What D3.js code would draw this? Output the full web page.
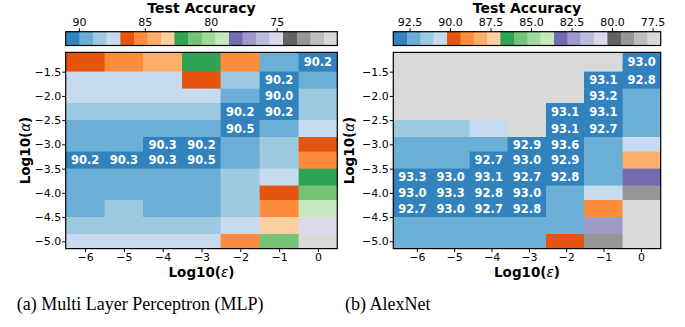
<!DOCTYPE html>
<html>
<head>
<meta charset="utf-8">
<script src="https://cdn.jsdelivr.net/npm/d3@7/dist/d3.min.js"></script>
<style>
  html, body { margin: 0; padding: 0; background: #fff; }
  svg { display: block; }
</style>
</head>
<body>
<svg id="fig" width="685" height="327"></svg>
<script>
// ---- data ----
const epsilonExp = [-6, -5, -4, -3, -2, -1, 0];
const alphas = [5e-2, 2e-2, 1e-2, 5e-3, 2e-3, 1e-3, 5e-4, 2e-4, 1e-4, 5e-5, 2e-5, 1e-5];

// test accuracy (%), rows follow alphas, columns follow epsilonExp
const mlpAccuracy = [
  [86.3, 85.3, 84.3, 82.2, 85.3, 89.4, 90.2],
  [87.4, 87.4, 87.4, 86.3, 88.4, 90.2, 89.4],
  [87.4, 87.4, 87.4, 87.4, 89.4, 90.0, 88.4],
  [88.4, 88.4, 88.4, 88.4, 90.2, 90.2, 88.4],
  [89.4, 89.4, 89.4, 89.4, 90.5, 89.4, 87.4],
  [89.4, 89.4, 90.3, 90.2, 89.4, 88.4, 86.3],
  [90.2, 90.3, 90.3, 90.5, 89.4, 88.4, 85.3],
  [89.4, 89.4, 89.4, 89.4, 88.4, 87.4, 82.2],
  [89.4, 89.4, 89.4, 89.4, 88.4, 86.3, 81.2],
  [89.4, 88.4, 89.4, 89.4, 88.4, 85.3, 79.1],
  [88.4, 88.4, 88.4, 88.4, 87.4, 83.3, 75.0],
  [87.4, 87.4, 87.4, 87.4, 85.3, 81.2, 71.0]
];
const alexnetAccuracy = [
  [10.0, 10.0, 10.0, 10.0, 10.0, 10.0, 93.0],
  [10.0, 10.0, 10.0, 10.0, 10.0, 93.1, 92.8],
  [10.0, 10.0, 10.0, 10.0, 10.0, 93.2, 92.3],
  [10.0, 10.0, 10.0, 10.0, 93.1, 93.1, 92.3],
  [91.5, 91.5, 90.6, 10.0, 93.1, 92.7, 92.3],
  [92.3, 92.3, 92.3, 92.9, 93.6, 92.3, 90.6],
  [92.3, 92.3, 92.7, 93.0, 92.9, 92.3, 88.1],
  [93.3, 93.0, 93.1, 92.7, 92.8, 92.3, 83.2],
  [93.0, 93.3, 92.8, 93.0, 92.3, 90.6, 79.1],
  [92.7, 93.0, 92.7, 92.8, 92.3, 89.0, 10.0],
  [92.3, 92.3, 92.3, 92.3, 92.3, 82.4, 10.0],
  [92.3, 92.3, 92.3, 92.3, 89.8, 79.1, 10.0]
];

const mlpColorRange = [70.4, 91.0];
const alexnetColorRange = [77.0, 93.5];
const mlpColorTicks = [90, 85, 80, 75];
const alexnetColorTicks = [92.5, 90.0, 87.5, 85.0, 82.5, 80.0, 77.5];
const mlpLabelMin = 90.0;
const alexnetLabelMin = 92.7;
const alphaTicks = [-1.5, -2.0, -2.5, -3.0, -3.5, -4.0, -4.5, -5.0];
const mlpEpsExtent = [-6.5, 0.5];
const alexnetEpsExtent = [-6.63, 0.53];
const captions = ["(a) Multi Layer Perceptron (MLP)", "(b) AlexNet"];

// tab20c palette, used as a discrete colormap (high accuracy -> first colour)
const tab20c = [
  "#3182bd", "#6baed6", "#9ecae1", "#c6dbef",
  "#e6550d", "#fd8d3c", "#fdae6b", "#fdd0a2",
  "#31a354", "#74c476", "#a1d99b", "#c7e9c0",
  "#756bb1", "#9e9ac8", "#bcbddc", "#dadaeb",
  "#636363", "#969696", "#bdbdbd", "#d9d9d9"
];

// ---- layout ----
const svg = d3.select("#fig");
const SANS = "DejaVu Sans, sans-serif";
const plotTop = 52.4, plotBottom = 248.6;
const cbarTop = 31.7, cbarBottom = 45.5;

// row edges in log10(alpha): midpoints between neighbouring rows
const logAlpha = alphas.map(Math.log10);
const rowEdges = [logAlpha[0] + (logAlpha[0] - logAlpha[1]) / 2];
for (let i = 0; i < logAlpha.length - 1; i++) rowEdges.push((logAlpha[i] + logAlpha[i + 1]) / 2);
const n = logAlpha.length;
rowEdges.push(logAlpha[n - 1] - (logAlpha[n - 2] - logAlpha[n - 1]) / 2);

function panel(opts) {
  const { x0, x1, data, colorRange, colorTicks, tickFmt, labelMin, epsExtent, yLabelX, caption, captionX } = opts;
  const g = svg.append("g");

  const color = d3.scaleQuantize()
    .domain(colorRange)
    .range(tab20c.slice().reverse());

  const xBand = d3.scaleBand().domain(epsilonExp).range([x0, x1]).paddingInner(0).paddingOuter(0);
  const xAxisScale = d3.scaleLinear().domain(epsExtent).range([x0, x1]);
  const y = d3.scaleLinear().domain([rowEdges[rowEdges.length - 1], rowEdges[0]]).range([plotBottom, plotTop]);

  // cells
  const cells = [];
  data.forEach((row, ri) => row.forEach((v, ci) => cells.push({ ri, ci, v })));
  g.append("g").selectAll("rect").data(cells).join("rect")
    .attr("x", d => xBand(epsilonExp[d.ci]))
    .attr("width", xBand.bandwidth())
    .attr("y", d => y(rowEdges[d.ri]))
    .attr("height", d => y(rowEdges[d.ri + 1]) - y(rowEdges[d.ri]))
    .attr("fill", d => color(d.v))
    .attr("stroke", d => color(d.v))
    .attr("stroke-width", 0.4)
    .attr("shape-rendering", "crispEdges");

  // value annotations
  g.append("g").selectAll("text").data(cells.filter(d => d.v >= labelMin)).join("text")
    .attr("x", d => xBand(epsilonExp[d.ci]) + xBand.bandwidth() / 2)
    .attr("y", d => (y(rowEdges[d.ri]) + y(rowEdges[d.ri + 1])) / 2)
    .attr("dy", "0.36em")
    .attr("text-anchor", "middle")
    .attr("fill", "#fff")
    .attr("font-family", SANS)
    .attr("font-weight", "bold")
    .attr("font-size", 11.5)
    .text(d => d3.format(".1f")(d.v));

  // frame
  g.append("rect")
    .attr("x", x0).attr("y", plotTop)
    .attr("width", x1 - x0).attr("height", plotBottom - plotTop)
    .attr("fill", "none").attr("stroke", "#000").attr("stroke-width", 1.2);

  // x axis
  const xAxis = g.append("g").attr("transform", `translate(0,${plotBottom})`)
    .call(d3.axisBottom(xAxisScale).tickValues(epsilonExp).tickFormat(d3.format("d")).tickSize(3.5).tickPadding(1));
  xAxis.select(".domain").remove();
  xAxis.selectAll("text").attr("font-family", SANS).attr("font-size", 11).attr("fill", "#000");

  // y axis
  const yAxis = g.append("g").attr("transform", `translate(${x0},0)`)
    .call(d3.axisLeft(y).tickValues(alphaTicks).tickFormat(d3.format(".1f")).tickSize(3.5).tickPadding(1));
  yAxis.select(".domain").remove();
  yAxis.selectAll("text").attr("font-family", SANS).attr("font-size", 11).attr("fill", "#000");

  // axis titles
  const xl = g.append("text")
    .attr("x", (x0 + x1) / 2).attr("y", 276.5)
    .attr("text-anchor", "middle")
    .attr("font-family", SANS).attr("font-size", 13.5).attr("font-weight", "bold");
  xl.append("tspan").text("Log10(");
  xl.append("tspan").attr("font-style", "italic").attr("font-weight", "normal").text("ε");
  xl.append("tspan").text(")");

  const yl = g.append("text")
    .attr("transform", `translate(${yLabelX},${(plotTop + plotBottom) / 2}) rotate(-90)`)
    .attr("text-anchor", "middle")
    .attr("font-family", SANS).attr("font-size", 13.5).attr("font-weight", "bold");
  yl.append("tspan").text("Log10(");
  yl.append("tspan").attr("font-style", "italic").attr("font-weight", "normal").text("α");
  yl.append("tspan").text(")");

  // colorbar
  const cx = d3.scaleLinear().domain([colorRange[1], colorRange[0]]).range([x0, x1]);
  const bins = color.range().map(c => color.invertExtent(c));
  g.append("g").selectAll("rect").data(bins).join("rect")
    .attr("x", d => cx(d[1]))
    .attr("width", d => cx(d[0]) - cx(d[1]))
    .attr("y", cbarTop)
    .attr("height", cbarBottom - cbarTop)
    .attr("fill", d => color((d[0] + d[1]) / 2))
    .attr("stroke", d => color((d[0] + d[1]) / 2))
    .attr("stroke-width", 0.4)
    .attr("shape-rendering", "crispEdges");
  g.append("rect")
    .attr("x", x0).attr("y", cbarTop)
    .attr("width", x1 - x0).attr("height", cbarBottom - cbarTop)
    .attr("fill", "none").attr("stroke", "#000").attr("stroke-width", 1.2);
  const cAxis = g.append("g").attr("transform", `translate(0,${cbarTop})`)
    .call(d3.axisTop(cx).tickValues(colorTicks).tickFormat(tickFmt).tickSize(3.5).tickPadding(2.5));
  cAxis.select(".domain").remove();
  cAxis.selectAll("text").attr("font-family", SANS).attr("font-size", 11).attr("fill", "#000");

  g.append("text")
    .attr("x", (x0 + x1) / 2).attr("y", 13.2)
    .attr("text-anchor", "middle")
    .attr("font-family", SANS).attr("font-size", 14).attr("font-weight", "bold")
    .text("Test Accuracy");

  // caption
  svg.append("text")
    .attr("x", captionX).attr("y", 310)
    .attr("font-family", "Liberation Serif, serif").attr("font-size", 18)
    .text(caption);
}

panel({
  x0: 65.7, x1: 337.3, data: mlpAccuracy, colorRange: mlpColorRange,
  colorTicks: mlpColorTicks, tickFmt: d3.format("d"), labelMin: mlpLabelMin,
  epsExtent: mlpEpsExtent, yLabelX: 29.5, caption: captions[0], captionX: 16.7
});
panel({
  x0: 393.3, x1: 660.7, data: alexnetAccuracy, colorRange: alexnetColorRange,
  colorTicks: alexnetColorTicks, tickFmt: d3.format(".1f"), labelMin: alexnetLabelMin,
  epsExtent: alexnetEpsExtent, yLabelX: 354, caption: captions[1], captionX: 345
});
</script>
</body>
</html>
